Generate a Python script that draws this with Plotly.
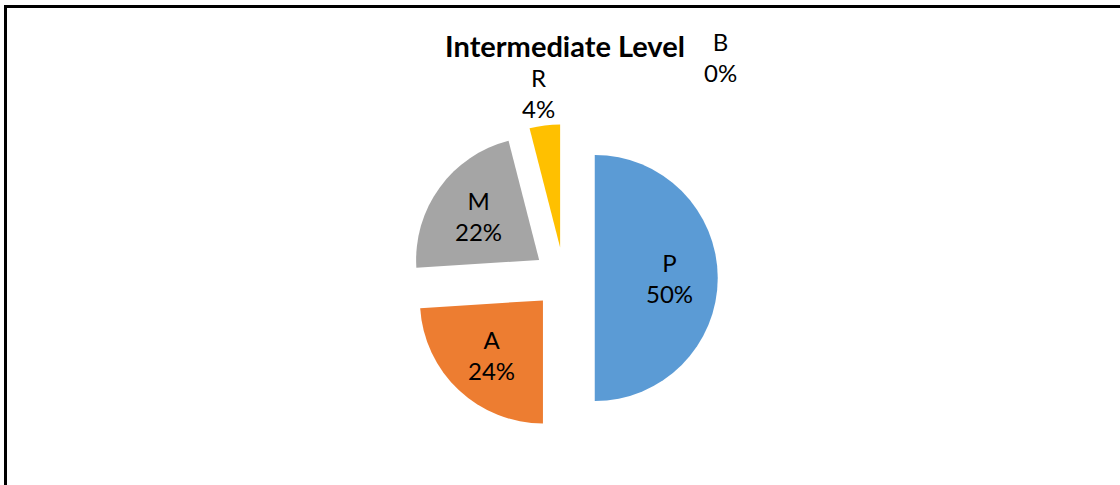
import math
import plotly.graph_objects as go

categories = ["P", "A", "M", "R", "B"]
values = [50, 24, 22, 4, 0]
colors = ["#5B9BD5", "#ED7D31", "#A5A5A5", "#FFC000", "#7F7F7F"]
title_text = "Intermediate Level"

W, H = 1120, 485
PULL = 0.25
FONT = "Lato"

# pie geometry (pixel) -> domain
cx, cy, r = 564, 278, 123
half = r * (1 + PULL)
dom_y = [1 - (cy + half) / H, 1 - (cy - half) / H]
dom_x = [(cx - 224) / W, (cx + 224) / W]

fig = go.Figure(go.Pie(
    labels=categories,
    values=values,
    sort=False,
    direction="clockwise",
    rotation=0,
    pull=[PULL] * len(values),
    marker=dict(colors=colors, line=dict(width=0)),
    textinfo="none",
    hoverinfo="label+percent",
    domain=dict(x=dom_x, y=dom_y),
    showlegend=False,
))

# labels computed from slice angles
total = sum(values)
annotations = []
cum = 0.0
for lab, v in zip(categories, values):
    start = cum / total * 360
    cum += v
    end = cum / total * 360
    mid = math.radians((start + end) / 2)
    dx, dy = math.sin(mid), -math.cos(mid)
    pcx, pcy = cx + PULL * r * dx, cy + PULL * r * dy
    pct = round(v / total * 100)
    if v / total >= 0.1:
        fr = 0.61
        lx, ly = pcx + fr * r * dx, pcy + fr * r * dy
    elif v > 0:
        fr = 1.27
        lx, ly = pcx + fr * r * dx - 2, pcy + fr * r * dy
    else:
        # zero slice: label pushed aside to the upper right
        lx, ly = pcx + 156, pcy - 190
    annotations.append(dict(
        x=lx / W, y=1 - ly / H, xref="paper", yref="paper",
        text=f"{lab}<br>{pct}%", showarrow=False,
        xanchor="center", yanchor="middle",
        font=dict(family=FONT, size=24, color="#000000"),
    ))

fig.update_layout(
    width=W, height=H,
    margin=dict(l=0, r=0, t=0, b=0),
    paper_bgcolor="white", plot_bgcolor="white",
    title=dict(text=f"<b>{title_text}</b>", x=565 / W, y=1 - 47 / H,
               xanchor="center", yanchor="middle",
               font=dict(family=FONT, size=29, color="#000000")),
    annotations=annotations,
    shapes=[dict(type="rect", xref="paper", yref="paper",
                 x0=5.5 / W, y0=-0.2, x1=1.2, y1=1 - 6.5 / H,
                 line=dict(color="black", width=3))],
)

fig.write_html("out.html")
